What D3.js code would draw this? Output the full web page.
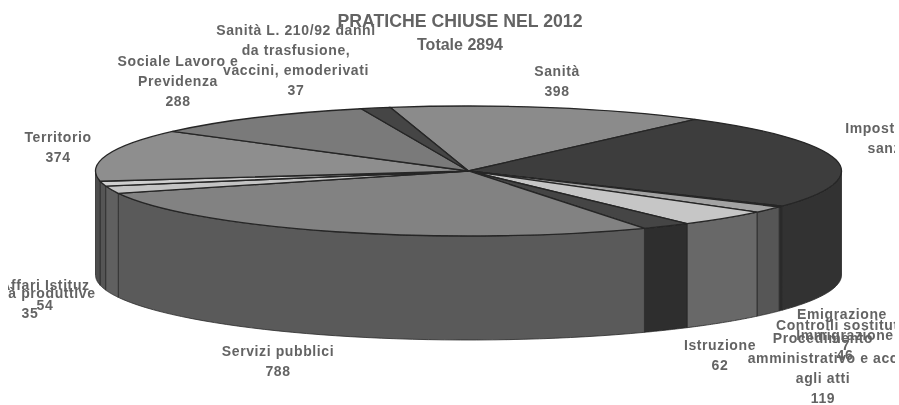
<!DOCTYPE html>
<html>
<head>
<meta charset="utf-8">
<script src="https://cdn.jsdelivr.net/npm/d3@7"></script>
<style>
  html, body { margin: 0; background: #fff; }
  text { font-family: "Liberation Sans", Arial, sans-serif; font-weight: bold; fill: #646464; text-anchor: middle; dominant-baseline: central; }
</style>
</head>
<body>
<div id="chart"></div>
<script>
// data
var categories = ["Sanità", "Imposte", "Emigrazione", "Immigrazione", "Procedimento amministrativo", "Istruzione", "Servizi pubblici", "Affari Istituz", "Attività produttive", "Territorio", "Sociale Lavoro e Previdenza", "Sanità L. 210/92"];
var values = [398, 686, 7, 46, 119, 62, 788, 54, 35, 374, 288, 37];
var topColors = ["#8b8b8b", "#3d3d3d", "#333333", "#a3a3a3", "#c6c6c6", "#454545", "#828282", "#c4c4c4", "#d0d0d0", "#8e8e8e", "#7a7a7a", "#454545"];
var sideColors = ["#6a6a6a", "#333333", "#2b2b2b", "#565656", "#686868", "#2d2d2d", "#5a5a5a", "#606060", "#555555", "#4e4e4e", "#555555", "#333333"];

var labelLines = [
    ["Sanità", "398"],
    ["Imposte, tasse", "sanzioni"],
    ["Emigrazione"],
    ["Immigrazione", "46"],
    ["Procedimento", "amministrativo e acc", "agli atti", "119"],
    ["Istruzione", "62"],
    ["Servizi pubblici", "788"],
    ["Affari Istituz", "54"],
    ["Attività produttive", "35"],
    ["Territorio", "374"],
    ["Sociale Lavoro e", "Previdenza", "288"],
    ["Sanità L. 210/92 danni", "da trasfusione,", "vaccini, emoderivati", "37"]
];
var extraLines = ["Controlli sostitutivi", "7"];

// set up chart
var svgWidth = 899;
var svgHeight = 405;
var cx = 468.5;
var cy = 171;
var rx = 373;
var ry = 65;
var depth = 104;

var svg = d3.select("#chart")
    .append("svg")
    .attr("width", svgWidth)
    .attr("height", svgHeight);

var defs = svg.append("defs");
defs.append("filter").attr("id", "soft")
    .append("feGaussianBlur").attr("stdDeviation", 0.6);
defs.append("clipPath").attr("id", "page")
    .append("rect").attr("x", 8).attr("y", 0).attr("width", 887).attr("height", svgHeight);

var pie = d3.pie().sort(null)
    .startAngle(-12.1 * Math.PI / 180)
    .endAngle((360 - 12.1) * Math.PI / 180);
var slices = pie(values);

var px = d3.scaleLinear().domain([-1, 1]).range([cx - rx, cx + rx]);
var py = d3.scaleLinear().domain([-1, 1]).range([cy - ry, cy + ry]);

// a=0 is the top of the ellipse, clockwise
function edgeX(a) { return px(Math.sin(a)); }
function edgeY(a) { return py(-Math.cos(a)); }

var chart = svg.append("g").attr("filter", "url(#soft)");

// side wall, only the front half of the ellipse shows
var wall = d3.area()
    .x(function(a) { return edgeX(a); })
    .y0(function(a) { return edgeY(a); })
    .y1(function(a) { return edgeY(a) + depth; });

var front = slices.map(function(d, i) {
    var lo = Math.max(d.startAngle, Math.PI / 2);
    var hi = Math.min(d.endAngle, 3 * Math.PI / 2);
    return { lo: lo, hi: hi, i: i };
}).filter(function(d) { return d.hi > d.lo; });

chart.append("g").selectAll("path")
    .data(front)
    .enter()
    .append("path")
    .attr("d", function(d) {
        var steps = d3.range(0, 41).map(function(k) { return d.lo + (d.hi - d.lo) * k / 40; });
        return wall(steps);
    })
    .attr("fill", function(d) { return sideColors[d.i]; })
    .attr("stroke", "#2a2a2a")
    .attr("stroke-width", 0.8);

// top of the pie
var arc = d3.arc().innerRadius(0).outerRadius(rx);
chart.append("g")
    .attr("transform", "translate(" + cx + "," + cy + ") scale(1," + (ry / rx) + ")")
    .selectAll("path")
    .data(slices)
    .enter()
    .append("path")
    .attr("d", arc)
    .attr("fill", function(d, i) { return topColors[i]; })
    .attr("stroke", "#262626")
    .attr("stroke-width", 1.3)
    .attr("vector-effect", "non-scaling-stroke");

// labels
var labelX = [557, 898, 842, 845, 823, 720, 278, 45, 30, 58, 178, 296];
var labelY = [71, 128, 314, 335, 338, 345, 351, 285, 293, 137, 61, 30];
var labelStep = 20;

var labels = svg.append("g")
    .attr("clip-path", "url(#page)")
    .attr("filter", "url(#soft)");

function addLabel(lines, x, y) {
    lines.forEach(function(line, k) {
        labels.append("text")
            .attr("x", x)
            .attr("y", y + k * labelStep)
            .style("font-size", "14px")
            .style("letter-spacing", "0.6px")
            .text(line);
    });
}

labelLines.forEach(function(lines, i) {
    addLabel(lines, labelX[i], labelY[i]);
});
addLabel(extraLines, 846, 325);

// title
svg.append("text")
    .attr("x", 460)
    .attr("y", 21)
    .attr("filter", "url(#soft)")
    .style("font-size", "17.7px")
    .text("PRATICHE CHIUSE NEL 2012");
svg.append("text")
    .attr("x", 460)
    .attr("y", 44)
    .attr("filter", "url(#soft)")
    .style("font-size", "16px")
    .text("Totale 2894");
</script>
</body>
</html>
